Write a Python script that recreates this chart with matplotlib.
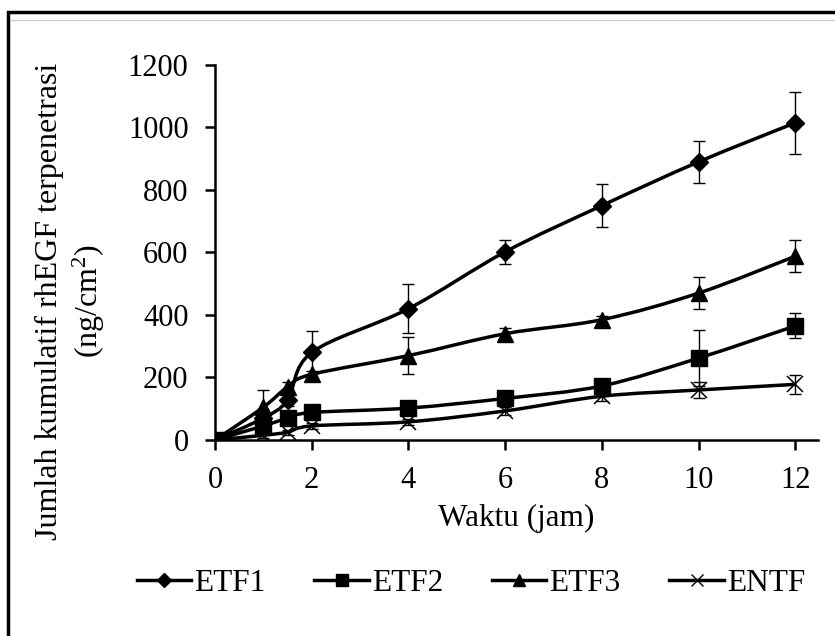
import numpy as np
import matplotlib
matplotlib.use("Agg")
from matplotlib import pyplot as plt
from matplotlib.path import Path
from matplotlib.patches import PathPatch, Rectangle
from matplotlib.lines import Line2D

plt.rcParams['font.family'] = ['Liberation Serif', 'DejaVu Serif']
plt.rcParams['mathtext.fontset'] = 'custom'
plt.rcParams['mathtext.rm'] = 'Liberation Serif'

# time points (jam)
waktu = [0, 1, 1.5, 2, 4, 6, 8, 10, 12]

# cumulative rhEGF (ng/cm2) and SD
etf1 = [0, 70, 128, 280, 420, 602, 750, 890, 1015]
etf1_sd = [0, 15, 20, 68, 78, 38, 68, 68, 100]
etf2 = [0, 45, 70, 88, 102, 133, 173, 262, 365]
etf2_sd = [0, 10, 10, 10, 10, 10, 15, 90, 40]
etf3 = [0, 105, 170, 210, 270, 340, 385, 470, 588]
etf3_sd = [0, 55, 15, 12, 60, 18, 12, 50, 52]
entf = [0, 15, 25, 45, 58, 93, 140, 160, 178]
entf_sd = [0, 8, 8, 10, 10, 12, 15, 25, 30]

# name, values, sd, marker, marker size, marker zorder
series = [
    ('ETF1', etf1, etf1_sd, 'D', 9.5, 4),
    ('ETF2', etf2, etf2_sd, 's', 12, 6),
    ('ETF3', etf3, etf3_sd, '^', 12, 5),
    ('ENTF', entf, entf_sd, 'x', 11, 4),
]


def smooth_path(x, y):
    # Excel-like smoothed line: Catmull-Rom segments as cubic Bezier
    pts = np.column_stack([x, y]).astype(float)
    n = len(pts)
    verts = [pts[0]]
    codes = [Path.MOVETO]
    for i in range(n - 1):
        p0 = pts[i - 1] if i > 0 else pts[i]
        p1 = pts[i]
        p2 = pts[i + 1]
        p3 = pts[i + 2] if i + 2 < n else pts[i + 1]
        c1 = p1 + (p2 - p0) / 6.0
        c2 = p2 - (p3 - p1) / 6.0
        verts += [c1, c2, p2]
        codes += [Path.CURVE4] * 3
    return Path(verts, codes)


fig = plt.figure(figsize=(8.35, 6.36), dpi=100)
ax = fig.add_axes([0.2575, 0.3082, 0.7221, 0.5896])

for name, vals, sd, mk, ms, zo in series:
    ax.add_patch(PathPatch(smooth_path(waktu, vals), fill=False,
                           edgecolor='black', lw=2.5, zorder=3))
    ax.errorbar(waktu, vals, yerr=sd, fmt='none', ecolor='black',
                elinewidth=1.0, capsize=4, capthick=1.0, zorder=2)
    if mk == 'x':
        ax.plot(waktu, vals, ls='none', marker=mk, ms=ms, mew=1.1,
                color='black', zorder=zo)
    else:
        ax.plot(waktu, vals, ls='none', marker=mk, ms=ms,
                color='black', zorder=zo)

ax.set_xlim(0, 12.47)
ax.set_ylim(0, 1200)
ax.set_xticks([0, 2, 4, 6, 8, 10, 12])
ax.set_yticks(range(0, 1201, 200))
ax.spines['top'].set_visible(False)
ax.spines['right'].set_visible(False)
ax.spines['left'].set_linewidth(1.8)
ax.spines['bottom'].set_linewidth(1.8)
ax.tick_params(direction='out', length=7, width=1.8, labelsize=22, pad=12)

ax.set_xlabel('Waktu (jam)', fontsize=22.5, labelpad=6)
fig.text(0.085, 1 - 301 / 636,
         'Jumlah kumulatif rhEGF terpenetrasi\n(ng/cm$\\mathregular{^2}$)',
         rotation=90, ha='center', va='center', multialignment='center',
         fontsize=23, linespacing=1.25)

handles = []
for name, vals, sd, mk, ms, zo in series:
    handles.append(Line2D([], [], color='black', lw=2.5, marker=mk,
                          ms=ms * 0.75, mew=1.0))
fig.legend(handles, [s[0] for s in series], loc='center', ncol=4,
           bbox_to_anchor=(0.564, 0.082), frameon=False, fontsize=22.5,
           handlelength=1.73, handletextpad=0.1, columnspacing=1.57,
           borderpad=0, borderaxespad=0)

# outer frame (cut at right and bottom like the source image)
fig.patches.append(Rectangle((0.009, -0.1), 1.2, 1.081,
                             transform=fig.transFigure, fill=False,
                             edgecolor='black', lw=2.5))
fig.lines.append(Line2D([0.013, 1.0], [0.969, 0.969],
                        transform=fig.transFigure, color='#d0d0d0', lw=1))

fig.savefig('out.png', dpi=100)
